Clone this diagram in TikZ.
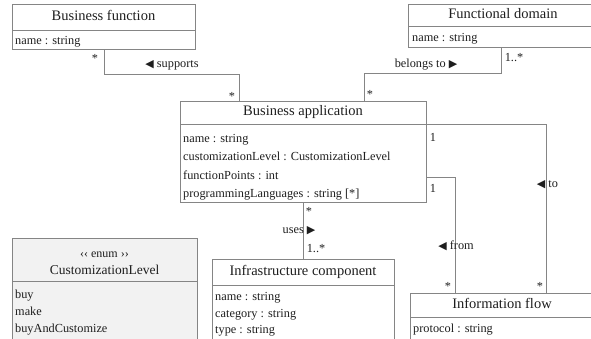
\documentclass[tikz,border=0pt]{standalone}
\usepackage{fontspec}
\setmainfont{Liberation Serif}
\newfontfamily\symf{DejaVu Sans}
\usetikzlibrary{calc}
\definecolor{ln}{HTML}{858585}
\definecolor{tx}{HTML}{1E1E1E}
\definecolor{enumfill}{HTML}{F2F2F2}
\newcommand{\tril}{{\symf\fontsize{11}{11}\selectfont ◀}}
\newcommand{\trir}{{\symf\fontsize{11}{11}\selectfont ▶}}
\tikzset{
  box/.style={draw=ln, line width=0.8pt, inner sep=0pt, outer sep=0pt, anchor=north west},
  hdr/.style={box, font=\fontsize{14.5}{17}\selectfont, text=tx, text height=0.7em, text depth=0.1em},
  attr/.style={font=\fontsize{12.3}{14}\selectfont, text=tx, inner sep=0pt, anchor=base west},
  lbl/.style={font=\fontsize{12.3}{14}\selectfont, text=tx, inner sep=0pt, anchor=base},
  conn/.style={draw=ln, line width=0.8pt},
}
\begin{document}
\begin{tikzpicture}[x=1pt,y=-1pt]
\useasboundingbox (0,0) rectangle (591,338);
\clip (0,0) rectangle (591,338);

% Business function
\node[hdr, minimum width=183, minimum height=26] (bf) at (12,4) {Business function};
\node[box, minimum width=183, minimum height=19] (bfb) at (bf.south west) {};
\node[attr] (bf1) at (15,44) {name : string};

% Functional domain
\node[hdr, minimum width=190, minimum height=22] (fd) at (408,4) {Functional domain};
\node[box, minimum width=190, minimum height=21] (fdb) at (fd.south west) {};
\node[attr] (fd1) at (412,41) {name : string};

% Business application
\node[hdr, minimum width=246, minimum height=23] (ba) at (180,101) {Business application};
\node[box, minimum width=246, minimum height=78] (bab) at (ba.south west) {};
\node[attr] (ba1) at (183,142) {name : string};
\node[attr] (ba2) at (183,160.5) {customizationLevel  : CustomizationLevel};
\node[attr] (ba3) at (183,179) {functionPoints : int};
\node[attr] (ba4) at (183,197.5) {programmingLanguages : string [*]};

% Enum
\node[box, fill=enumfill, minimum width=185, minimum height=43] (en) at (12,238) {};
\node[lbl, font=\fontsize{12}{14}\selectfont] (en1) at (104.5,257) {‹‹ enum ››};
\node[lbl, font=\fontsize{13.5}{16}\selectfont] (en2) at (104.5,274) {CustomizationLevel};
\node[box, fill=enumfill, minimum width=185, minimum height=70] (enb) at (en.south west) {};
\node[attr] (en3) at (15,298) {buy};
\node[attr] (en4) at (15,315) {make};
\node[attr] (en5) at (15,332) {buyAndCustomize};

% Infrastructure component
\node[hdr, minimum width=182, minimum height=26] (ic) at (212,259) {Infrastructure component};
\node[box, minimum width=182, minimum height=70] (icb) at (ic.south west) {};
\node[attr] (ic1) at (215,300.5) {name : string};
\node[attr] (ic2) at (215,317) {category  : string};
\node[attr] (ic3) at (215,333) {type : string};

% Information flow
\node[hdr, minimum width=184, minimum height=24] (inf) at (410,293) {Information flow};
\node[box, minimum width=184, minimum height=40] (infb) at (inf.south west) {};
\node[attr] (inf1) at (413,332.5) {protocol : string};

% connector bends
\coordinate (c1) at (104,74);
\coordinate (c2) at (239,74);
\coordinate (c3) at (501,73);
\coordinate (c4) at (364,73);
\coordinate (c5) at (546,125);
\coordinate (c6) at (455,177);

% supports
\draw[conn] (bfb.south -| c1) -- (c1) -- (c2) -- (ba.north -| c2);
\node[lbl] (m1) at (95,62) {*};
\node[lbl] (l1) at (172,67) {\tril\ supports};
\node[lbl] (m2) at (232,100) {*};

% belongs to
\draw[conn] (fdb.south -| c3) -- (c3) -- (c4) -- (ba.north -| c4);
\node[lbl] (l2) at (426,67) {belongs to \trir};
\node[lbl] (m3) at (514,61) {1..*};
\node[lbl] (m4) at (370,98) {*};

% to
\draw[conn] (ba.south east) -| (inf.north -| c5);
\node[lbl] (m5) at (433,141) {1};
\node[lbl] (l3) at (547.5,187) {\tril\ to};
\node[lbl] (m6) at (540,290) {*};

% from
\draw[conn] (bab.east |- c6) -| (inf.north -| c6);
\node[lbl] (m7) at (433,192) {1};
\node[lbl] (l4) at (456,249) {\tril\ from};
\node[lbl] (m8) at (448,290) {*};

% uses
\draw[conn] (bab.south) -- (ic.north);
\node[lbl] (m9) at (309,215) {*};
\node[lbl] (l5) at (299,233) {uses \trir};
\node[lbl] (m10) at (316,252) {1..*};
\end{tikzpicture}
\end{document}
